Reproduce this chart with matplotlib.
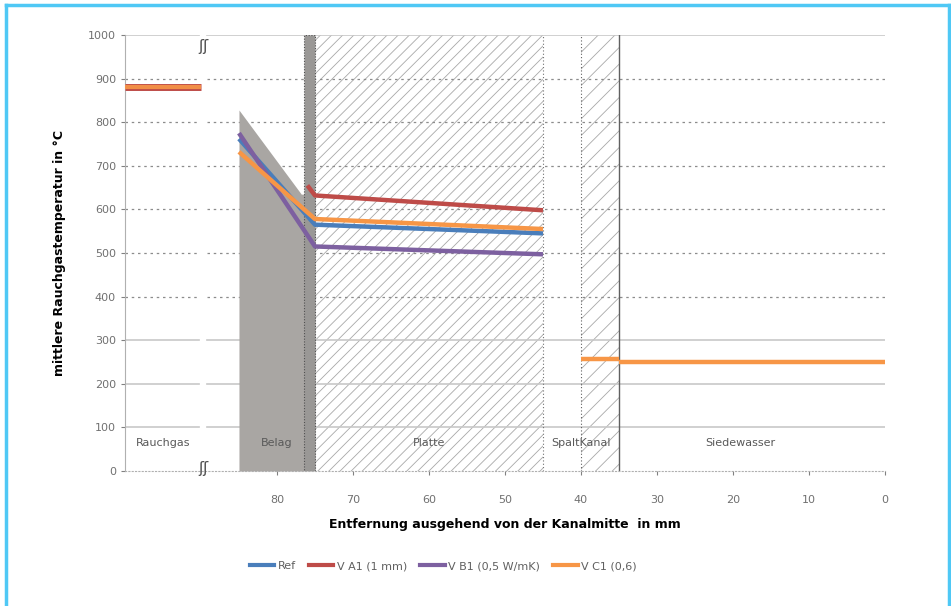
import matplotlib
matplotlib.use("Agg")
import matplotlib.pyplot as plt
from matplotlib.patches import Rectangle
from matplotlib.lines import Line2D

# ---- data ----
series_names = ["Ref", "V A1 (1 mm)", "V B1 (0,5 W/mK)", "V C1 (0,6)"]
series_colors = ["#4a7ebb", "#be4b48", "#7d60a0", "#f79646"]

rauch_x = [100, 90]
rauch_y = [880, 880]

ref_x = [85, 75, 45]
ref_y = [762, 565, 545]
a1_x = [76, 75, 45]
a1_y = [655, 632, 598]
b1_x = [85, 75, 45]
b1_y = [775, 515, 497]
c1_x = [85, 75, 45]
c1_y = [732, 578, 555]

spalt_x = [40, 35]
spalt_y = [257, 257]
siede_x = [35, 0]
siede_y = [250, 250]

belag_x = [85, 76.8, 75]
belag_top = [828, 635, 635]

region_names = ["Rauchgas", "Belag", "Platte", "SpaltKanal", "Siedewasser"]
region_pos = [95, 80, 60, 40, 19]

x_ticks = [80, 70, 60, 50, 40, 30, 20, 10, 0]
y_ticks = list(range(0, 1001, 100))

plt.rcParams['hatch.linewidth'] = 0.6

fig = plt.figure(figsize=(9.51, 6.06), dpi=100)
ax = fig.add_axes([0.1314, 0.2228, 0.7992, 0.7194])
ax.set_xlim(100, 0)
ax.set_ylim(0, 1000)

# figure border (light blue)
fig.add_artist(Line2D([0.0058, 0.0058], [0, 0.992], transform=fig.transFigure, color="#4fc8f5", lw=2.5))
fig.add_artist(Line2D([0.9975, 0.9975], [0, 0.992], transform=fig.transFigure, color="#4fc8f5", lw=2.5))
fig.add_artist(Line2D([0.0058, 0.9975], [0.992, 0.992], transform=fig.transFigure, color="#4fc8f5", lw=2.5))

# gridlines with a break gap
gap_l, gap_r = 90.2, 89.2
for yv in y_ticks[1:]:
    if 400 <= yv <= 900:
        kw = dict(color="#8c8c8c", lw=0.9, ls=(0, (2, 3)))
    else:
        kw = dict(color="#c8c8c8", lw=1.2, ls="-")
    ax.plot([100, gap_l], [yv, yv], zorder=1, **kw)
    ax.plot([gap_r, 0], [yv, yv], zorder=1, **kw)

# Platte region (hatched)
ax.add_patch(Rectangle((75, 0), -30, 1000, facecolor="white", edgecolor="#a8a8a8",
                       hatch="///", lw=0, zorder=0.5))
ax.plot([45, 45], [0, 1000], color="#707070", lw=0.8, ls=(0, (1, 2)), zorder=2)
# Spaltkanal region
ax.add_patch(Rectangle((40, 0), -5, 1000, facecolor="white", edgecolor="#a8a8a8",
                       hatch="//", lw=0, zorder=0.5))
ax.plot([40, 40], [0, 1000], color="#606060", lw=0.8, ls=(0, (1, 2)), zorder=2)
ax.plot([35, 35], [0, 1000], color="#606060", lw=1.0, zorder=2)

# Belag region (gray)
ax.fill_between(belag_x, 0, belag_top, color="#a9a6a3", lw=0, zorder=1.5)
ax.add_patch(Rectangle((76.5, 0), -1.5, 1000, facecolor="#9a9896", edgecolor="#505050",
                       lw=0.8, ls=(0, (1, 1.5)), zorder=1.6))

# series
lw = 3.2
ax.plot(ref_x, ref_y, color=series_colors[0], lw=lw, zorder=3, solid_capstyle="butt")
ax.plot(a1_x, a1_y, color=series_colors[1], lw=lw, zorder=3, solid_capstyle="butt")
ax.plot(b1_x, b1_y, color=series_colors[2], lw=lw, zorder=3, solid_capstyle="butt")
ax.plot(c1_x, c1_y, color=series_colors[3], lw=lw, zorder=3, solid_capstyle="butt")
ax.plot(rauch_x, rauch_y, color=series_colors[1], lw=5, zorder=3, solid_capstyle="butt")
ax.plot(rauch_x, rauch_y, color=series_colors[3], lw=3, zorder=3.1, solid_capstyle="butt", alpha=0.9)
ax.plot(spalt_x, spalt_y, color=series_colors[3], lw=lw, zorder=3, solid_capstyle="butt")
ax.plot(siede_x, siede_y, color=series_colors[3], lw=lw, zorder=3, solid_capstyle="butt")

# region labels
for name, xp in zip(region_names, region_pos):
    ax.text(xp, 65, name, ha="center", va="center", fontsize=8, color="#595959", zorder=4)

# break marks
ax.text(89.7, 990, "ʃʃ", ha="center", va="top", fontsize=11, color="#505050", zorder=4)
ax.text(89.7, 5, "ʃʃ", ha="center", va="center", fontsize=11, color="#505050", zorder=4,
        clip_on=False)

# axes styling
ax.set_xticks(x_ticks)
ax.set_xticklabels([str(v) for v in x_ticks])
ax.set_yticks(y_ticks)
ax.set_yticklabels([str(v) for v in y_ticks])
ax.tick_params(axis="both", labelsize=8, colors="#808080", labelcolor="#707070", length=3)
ax.tick_params(axis="x", pad=14)
for s in ["top", "right"]:
    ax.spines[s].set_visible(False)
ax.spines["left"].set_color("#b0b0b0")
ax.spines["bottom"].set_color("#b0b0b0")
ax.spines["bottom"].set_linestyle((0, (1, 2)))

ax.set_ylabel("mittlere Rauchgastemperatur in °C", fontsize=9, fontweight="bold", labelpad=16)
ax.set_xlabel("Entfernung ausgehend von der Kanalmitte  in mm", fontsize=9, fontweight="bold",
              labelpad=10)

handles = [Line2D([], [], color=c, lw=3) for c in series_colors]
leg = fig.legend(handles, series_names, loc="center", bbox_to_anchor=(0.466, 0.066), ncol=4,
                 frameon=False, fontsize=8, handlelength=2.2, handletextpad=0.3, columnspacing=1.2)
for t in leg.get_texts():
    t.set_color("#606060")

fig.savefig("out.png", dpi=100)
